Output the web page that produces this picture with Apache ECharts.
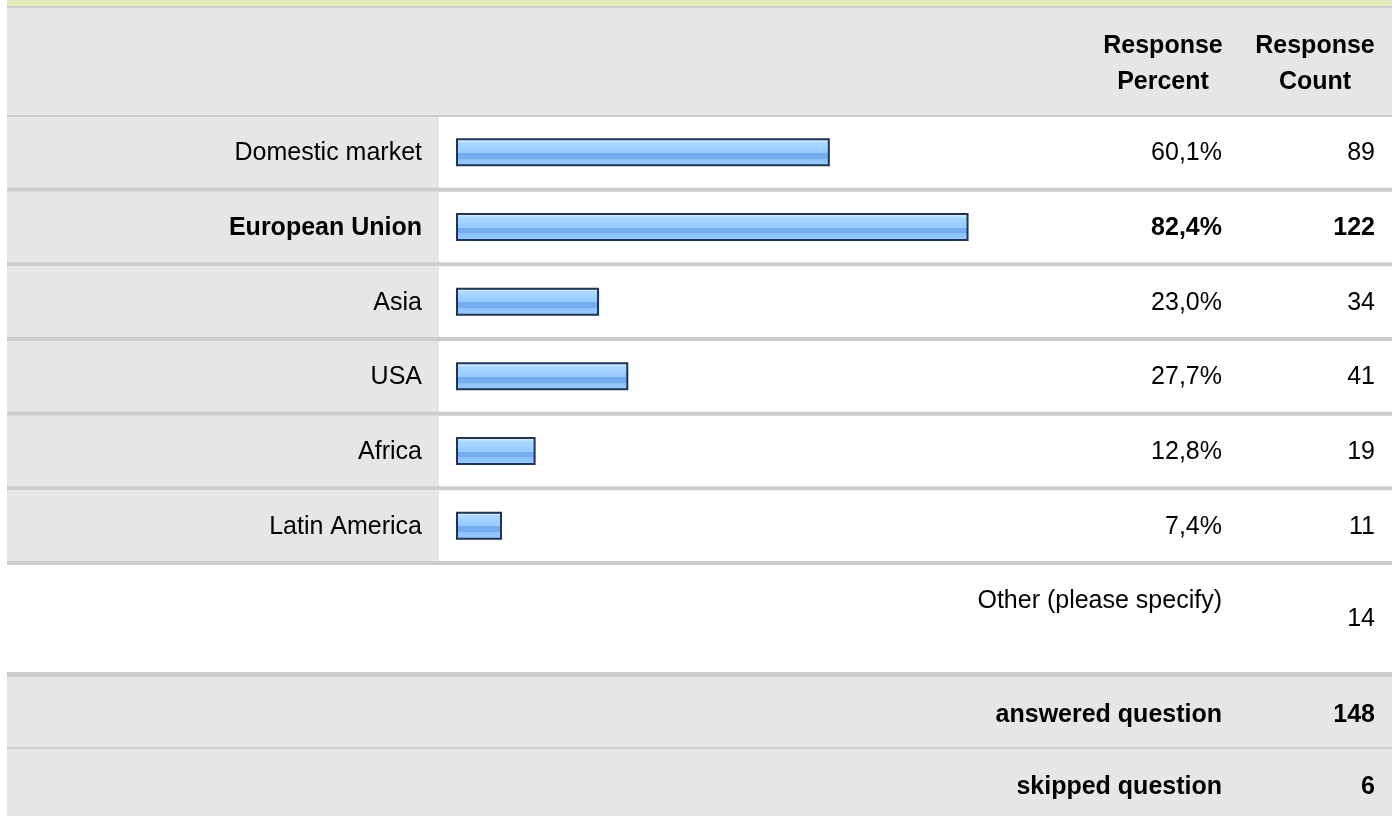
<!DOCTYPE html>
<html>
<head>
<meta charset="utf-8">
<script src="https://cdn.jsdelivr.net/npm/echarts@6/dist/echarts.min.js"></script>
<style>
  html, body { margin: 0; padding: 0; background: #ffffff; }
  #chart { width: 1396px; height: 816px; }
</style>
</head>
<body>
<div id="chart"></div>
<script>
// Survey answers
const categories = ['Domestic market', 'European Union', 'Asia', 'USA', 'Africa', 'Latin America'];
const percents = [60.1, 82.4, 23.0, 27.7, 12.8, 7.4];
const counts = [89, 122, 34, 41, 19, 11];
const highlighted = 'European Union';
const headerPercent = ['Response', 'Percent'];
const headerCount = ['Response', 'Count'];
const otherLabel = 'Other (please specify)';
const otherCount = 14;
const summaryLabels = ['answered question', 'skipped question'];
const summaryCounts = [148, 6];

// Table geometry
const FONT = '"Liberation Sans", Arial, sans-serif';
const FS = 25;
const tableLeft = 7, tableRight = 1392;
const labelCellRight = 439;
const gridLeft = 456, gridWidth = 622, gridTop = 115, gridHeight = 448;
const pctRight = 1222, countRight = 1375;
const rowH = gridHeight / categories.length;
const GRAY = '#e6e6e6', LINE = '#cccccc';

const fmtPct = v => v.toFixed(1).replace('.', ',') + '%';
const wrap = (txt, cat) => (cat === highlighted ? '{b|' : '{n|') + txt + '}';
const rich = {
  n: { fontFamily: FONT, fontSize: FS, color: '#000', padding: [2, 0, 0, 0] },
  b: { fontFamily: FONT, fontSize: FS, color: '#000', fontWeight: 'bold', padding: [2, 0, 0, 0] }
};

const graphics = [];
const rect = (x, y, w, h, fill) => graphics.push({
  type: 'rect', z: -10, silent: true,
  shape: { x: x, y: y, width: w, height: h }, style: { fill: fill }
});
const text = (str, x, y, align, bold, extra) => graphics.push({
  type: 'text', z: 10, silent: true, x: x, y: y,
  style: Object.assign({
    text: str, fill: '#000', font: (bold ? 'bold ' : '') + FS + 'px ' + FONT,
    align: align, verticalAlign: 'middle'
  }, extra || {})
});

// top band and header
rect(tableLeft, 0, tableRight - tableLeft, 6, '#e5ebbd');
rect(tableLeft, 6, tableRight - tableLeft, 2, LINE);
rect(tableLeft, 8, tableRight - tableLeft, gridTop - 8, GRAY);
rect(tableLeft, gridTop, tableRight - tableLeft, 2, LINE);
text(headerPercent.join('\n'), 1163, 64.5, 'center', true, { lineHeight: 36 });
text(headerCount.join('\n'), 1315, 64.5, 'center', true, { lineHeight: 36 });

// answer rows: gray label cells and separators
categories.forEach((c, i) => {
  const top = gridTop + i * rowH;
  rect(tableLeft, top + 2, labelCellRight - tableLeft, rowH - 2, GRAY);
  rect(tableLeft, top + rowH - 2, tableRight - tableLeft, 4, LINE);
});

// "other" row
text(otherLabel, pctRight, 601.5, 'right', false);
text(String(otherCount), countRight, 619.5, 'right', false);
rect(tableLeft, 672, tableRight - tableLeft, 5, LINE);

// summary rows
rect(tableLeft, 677, tableRight - tableLeft, 70, GRAY);
rect(tableLeft, 747, tableRight - tableLeft, 2, '#d0d0d0');
rect(tableLeft, 749, tableRight - tableLeft, 816 - 749, GRAY);
text(summaryLabels[0], pctRight, 715, 'right', true);
text(String(summaryCounts[0]), countRight, 715, 'right', true);
text(summaryLabels[1], pctRight, 787.5, 'right', true);
text(String(summaryCounts[1]), countRight, 787.5, 'right', true);

const hiddenAxis = {
  axisLine: { show: false }, axisTick: { show: false }, splitLine: { show: false }
};

const barFill = new echarts.graphic.LinearGradient(0, 0, 0, 1, [
  { offset: 0.00, color: '#cfe7ff' },
  { offset: 0.12, color: '#cfe7ff' },
  { offset: 0.13, color: '#addaff' },
  { offset: 0.32, color: '#9fd0ff' },
  { offset: 0.52, color: '#97caff' },
  { offset: 0.53, color: '#74acee' },
  { offset: 0.72, color: '#74acee' },
  { offset: 0.73, color: '#8cc0f9' },
  { offset: 1.00, color: '#9ccdff' }
]);

const chart = echarts.init(document.getElementById('chart'), null, { renderer: 'canvas' });
chart.setOption({
  animation: false,
  backgroundColor: '#ffffff',
  grid: {
    left: gridLeft, top: gridTop, width: gridWidth, height: gridHeight,
    containLabel: false, outerBoundsMode: 'none'
  },
  xAxis: Object.assign({ type: 'value', min: 0, max: 100, axisLabel: { show: false } }, hiddenAxis),
  yAxis: [
    Object.assign({
      type: 'category', inverse: true, data: categories, position: 'left', z: 5,
      axisLabel: { margin: gridLeft - 422, formatter: v => wrap(v, v), rich: rich }
    }, hiddenAxis),
    Object.assign({
      type: 'category', inverse: true, data: categories, position: 'right', z: 5,
      axisLabel: {
        margin: pctRight - (gridLeft + gridWidth), align: 'right',
        formatter: (v, i) => wrap(fmtPct(percents[i]), v), rich: rich
      }
    }, hiddenAxis),
    Object.assign({
      type: 'category', inverse: true, data: categories, position: 'right', z: 5,
      axisLabel: {
        margin: countRight - (gridLeft + gridWidth), align: 'right',
        formatter: (v, i) => wrap(String(counts[i]), v), rich: rich
      }
    }, hiddenAxis)
  ],
  series: [{
    type: 'bar', data: percents, barWidth: 28, silent: true,
    itemStyle: { color: barFill, borderColor: '#1c3456', borderWidth: 2 }
  }],
  graphic: graphics
});
</script>
</body>
</html>
